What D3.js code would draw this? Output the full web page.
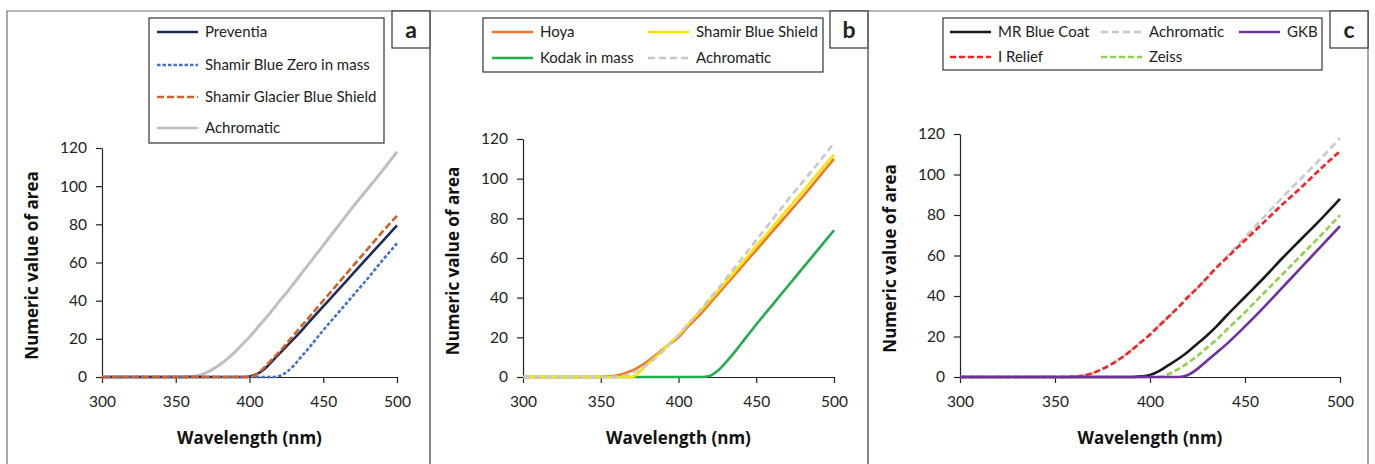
<!DOCTYPE html>
<html>
<head>
<meta charset="utf-8">
<script src="https://cdn.jsdelivr.net/npm/d3@7"></script>
<style>
  body { margin: 0; background: #fff; }
  svg { display: block; font-family: Lato, 'Open Sans', sans-serif; }
</style>
</head>
<body>
<svg id="chart" width="1375" height="464"></svg>
<script>
'use strict';

// shared wavelength grid (nm)
var wavelengths = [300, 340, 350, 355, 360, 365, 370, 375, 380, 385, 390, 395, 400, 405, 410, 415, 420, 425, 430, 435, 440, 450, 460, 470, 480, 490, 500];
var xTicks = [300, 350, 400, 450, 500];
var yTicks = [0, 20, 40, 60, 80, 100, 120];

var achromatic      = [0, 0, 0, 0, 0.2, 0.7, 2, 4, 6.5, 9.5, 13, 17, 21, 25.5, 30, 34.5, 39.5, 44, 49, 54, 59, 69, 79, 89, 98.5, 108, 118];
// panel a
var preventia       = [0, 0, 0, 0, 0, 0, 0, 0, 0, 0, 0, 0, 0.3, 1.5, 4, 8, 12, 16, 20, 24, 28.5, 37, 45.5, 54, 62.5, 71, 79.5];
var shamirBlueZero  = [0, 0, 0, 0, 0, 0, 0, 0, 0, 0, 0, 0, 0, 0, 0, 0, 0.5, 2.5, 6, 10.5, 15, 24.5, 33.5, 42.5, 51.5, 61, 70];
var shamirGlacier   = [0, 0, 0, 0, 0, 0, 0, 0, 0, 0, 0, 0, 0, 1.5, 5, 9, 13, 17.5, 22, 26.5, 31, 40, 49, 58, 67, 76, 84.5];
// panel b
var hoya            = [0, 0, 0, 0.3, 0.8, 1.8, 3.2, 5.2, 7.8, 10.8, 14, 17, 20, 24.5, 28.5, 32.5, 37, 41.5, 46, 50.5, 55, 64, 73, 82, 91, 100.5, 110];
var shamirBlueShield= [0, 0, 0, 0, 0, 0, 0, 2.5, 6.5, 10, 13.5, 17.5, 21, 25.5, 30, 34, 38.5, 43, 47.5, 52, 56.5, 66, 75, 84.5, 93.5, 103, 112];
var kodak           = [0, 0, 0, 0, 0, 0, 0, 0, 0, 0, 0, 0, 0, 0, 0, 0, 0.5, 3, 7, 11.5, 16.5, 26.5, 36, 45.5, 55, 64.5, 74];
// panel c
var mrBlueCoat      = [0, 0, 0, 0, 0, 0, 0, 0, 0, 0, 0, 0.3, 1, 3, 6, 9, 12.5, 16.5, 20.5, 25, 30, 39.5, 49, 59, 68.5, 78, 88];
var iRelief         = [0, 0, 0, 0, 0.2, 0.7, 2, 4, 6.5, 9.5, 13, 17, 21, 25.5, 30, 34.5, 39.5, 44, 49, 54, 58.5, 67.5, 76.5, 85.5, 94, 103, 111.5];
var zeiss           = [0, 0, 0, 0, 0, 0, 0, 0, 0, 0, 0, 0, 0, 0, 1.5, 4, 7, 10.5, 14.5, 18.5, 23, 32, 41.5, 51, 60.5, 70, 80];
var gkb             = [0, 0, 0, 0, 0, 0, 0, 0, 0, 0, 0, 0, 0, 0, 0, 0, 1, 4, 8, 12, 16, 25, 34.5, 44.5, 54.5, 64.5, 74.5];

var panels = [
  {
    label: 'a', frame: [7, 430], plot: [102, 397, 377, 148],
    legendBox: [149, 18, 235, 125],
    series: [
      { name: 'Achromatic', values: achromatic, color: '#bfbfbf', width: 3, dash: null, leg: [157, 128] },
      { name: 'Preventia', values: preventia, color: '#1f2d5a', width: 2.6, dash: null, leg: [157, 32] },
      { name: 'Shamir Blue Zero in mass', values: shamirBlueZero, color: '#4472c4', width: 2.6, dash: '3.5,2', leg: [157, 65] },
      { name: 'Shamir Glacier Blue Shield', values: shamirGlacier, color: '#d0622a', width: 2.6, dash: '7,3', leg: [157, 97] }
    ]
  },
  {
    label: 'b', frame: [430, 868], plot: [523, 834, 377, 139],
    legendBox: [483, 18, 340, 54],
    series: [
      { name: 'Kodak in mass', values: kodak, color: '#21ad4b', width: 2.6, dash: null, leg: [492, 58] },
      { name: 'Hoya', values: hoya, color: '#f47526', width: 2.6, dash: null, leg: [492, 32] },
      { name: 'Shamir Blue Shield', values: shamirBlueShield, color: '#f8e600', width: 2.6, dash: null, leg: [648, 32] },
      { name: 'Achromatic', values: achromatic, color: '#c8c8c8', width: 2.6, dash: '7,4', leg: [648, 58] }
    ]
  },
  {
    label: 'c', frame: [868, 1368], plot: [960, 1340, 377, 134],
    legendBox: [943, 18, 379, 52],
    series: [
      { name: 'Achromatic', values: achromatic, color: '#c8c8c8', width: 2.6, dash: '7,4', leg: [1101, 32] },
      { name: 'I  Relief', values: iRelief, color: '#ff1f1f', width: 2.6, dash: '6,3', leg: [950, 57] },
      { name: 'MR Blue Coat', values: mrBlueCoat, color: '#1a1a1a', width: 2.6, dash: null, leg: [950, 32] },
      { name: 'Zeiss', values: zeiss, color: '#92d050', width: 2.6, dash: '6,3', leg: [1101, 57] },
      { name: 'GKB', values: gkb, color: '#7030a0', width: 2.6, dash: null, leg: [1239, 32] }
    ]
  }
];

var svg = d3.select('#chart');

panels.forEach(function(p) {
  var g = svg.append('g');

  // panel frame (open at the bottom)
  g.append('path')
    .attr('d', 'M' + p.frame[0] + ',464V11H' + p.frame[1] + 'V464')
    .attr('fill', 'none')
    .attr('stroke', '#6e6e6e')
    .attr('stroke-width', 1.2);

  // panel letter box
  g.append('rect')
    .attr('x', p.frame[1] - 38).attr('y', 11)
    .attr('width', 38).attr('height', 37)
    .attr('fill', '#fff').attr('stroke', '#333').attr('stroke-width', 1.2);
  g.append('text')
    .attr('x', p.frame[1] - 19).attr('y', 30)
    .attr('text-anchor', 'middle').attr('dy', '0.35em')
    .style('font-size', '23px').style('font-weight', 'bold').style('fill', '#222')
    .text(p.label);

  var x = d3.scaleLinear().domain([300, 500]).range([p.plot[0], p.plot[1]]);
  var y = d3.scaleLinear().domain([0, 120]).range([p.plot[2], p.plot[3]]);

  var xAxis = g.append('g')
    .attr('transform', 'translate(0,' + p.plot[2] + ')')
    .call(d3.axisBottom(x).tickValues(xTicks).tickSize(6).tickSizeOuter(0).tickPadding(13));
  var yAxis = g.append('g')
    .attr('transform', 'translate(' + p.plot[0] + ',0)')
    .call(d3.axisLeft(y).tickValues(yTicks).tickSize(6).tickSizeOuter(0).tickPadding(9));

  [xAxis, yAxis].forEach(function(a) {
    a.select('.domain').attr('stroke', '#222').attr('stroke-width', 1.2);
    a.selectAll('.tick line').attr('stroke', '#222').attr('stroke-width', 1.2);
    a.selectAll('.tick text').style('font-size', '15.5px').style('fill', '#222')
      .style('font-family', 'Lato, sans-serif');
  });

  // axis titles
  g.append('text')
    .attr('x', (p.plot[0] + p.plot[1]) / 2).attr('y', 438)
    .attr('text-anchor', 'middle').attr('dy', '0.35em')
    .style('font-family', "'Open Sans', sans-serif")
    .style('font-size', '17px').style('font-weight', 'bold').style('fill', '#111')
    .text('Wavelength (nm)');
  g.append('text')
    .attr('transform', 'translate(' + (p.plot[0] - 70) + ',' + ((p.plot[2] + p.plot[3]) / 2 + 3) + ') rotate(-90)')
    .attr('text-anchor', 'middle').attr('dy', '0.35em')
    .style('font-family', "'Open Sans', sans-serif")
    .style('font-size', '17px').style('font-weight', 'bold').style('fill', '#111')
    .text('Numeric value of area');

  var line = d3.line()
    .x(function(d, i) { return x(wavelengths[i]); })
    .y(function(d) { return y(d); })
    .curve(d3.curveMonotoneX);

  g.selectAll('path.series')
    .data(p.series)
    .enter().append('path')
    .attr('class', 'series')
    .attr('d', function(s) { return line(s.values); })
    .attr('fill', 'none')
    .attr('stroke', function(s) { return s.color; })
    .attr('stroke-width', function(s) { return s.width; })
    .attr('stroke-dasharray', function(s) { return s.dash; });

  // legend
  var lb = p.legendBox;
  g.append('rect')
    .attr('x', lb[0]).attr('y', lb[1]).attr('width', lb[2]).attr('height', lb[3])
    .attr('fill', '#fff').attr('stroke', '#333').attr('stroke-width', 1.2);

  var item = g.selectAll('g.leg')
    .data(p.series)
    .enter().append('g')
    .attr('class', 'leg')
    .attr('transform', function(s) { return 'translate(' + s.leg[0] + ',' + s.leg[1] + ')'; });
  item.append('line')
    .attr('x1', 0).attr('x2', 41)
    .attr('stroke', function(s) { return s.color; })
    .attr('stroke-width', 2.6)
    .attr('stroke-dasharray', function(s) { return s.dash; });
  item.append('text')
    .attr('x', 48).attr('dy', '0.35em')
    .style('font-size', '15px').style('fill', '#222')
    .text(function(s) { return s.name; });
});
</script>
</body>
</html>
